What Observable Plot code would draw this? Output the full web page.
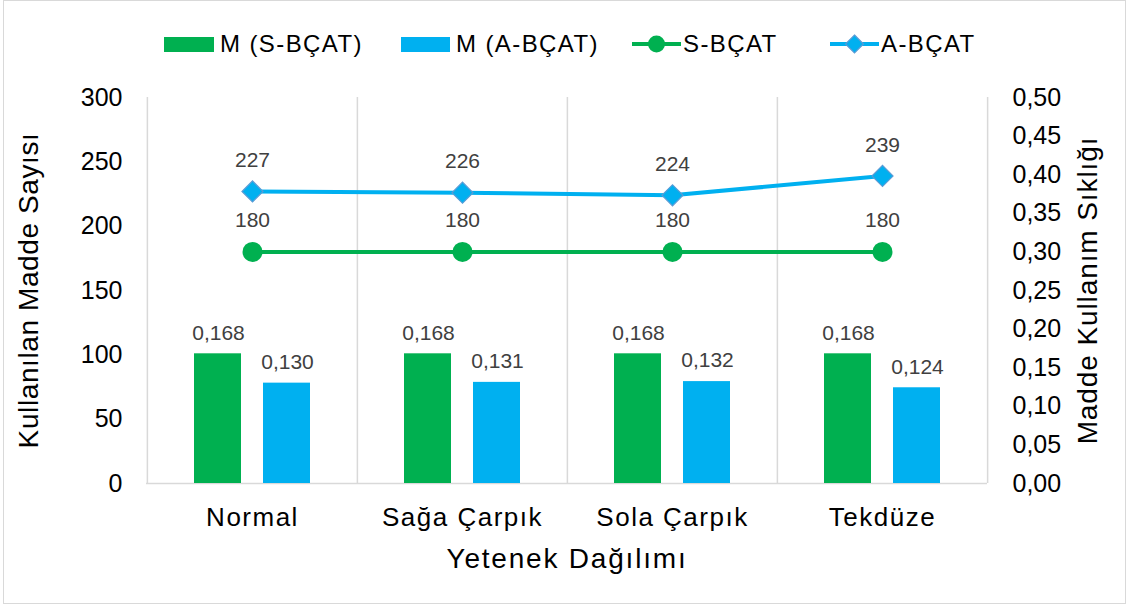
<!DOCTYPE html>
<html>
<head>
<meta charset="utf-8">
<script src="https://cdn.jsdelivr.net/npm/d3@7"></script>
<script src="https://cdn.jsdelivr.net/npm/@observablehq/plot@0.6"></script>
<style>
  html, body { margin: 0; padding: 0; background: #fff; }
  body { font-family: "Liberation Sans", Arial, sans-serif; }
  #wrap { position: relative; width: 1130px; height: 608px; overflow: hidden; }
  #frame { position: absolute; left: 3px; top: 0; width: 1123px; height: 604px; border: 1px solid #d9d9d9; box-sizing: border-box; pointer-events: none; }
  #legend { position: absolute; left: 0; top: 0; width: 1130px; height: 75px; }
  .item { position: absolute; top: 30px; height: 28px; display: flex; align-items: center; font-size: 24px; letter-spacing: 1.4px; color: #000; white-space: nowrap; }
  .item svg { display: block; }
  #chart { position: absolute; left: 0; top: 75px; }
</style>
</head>
<body>
<div id="wrap">
  <div id="legend"></div>
  <div id="chart"></div>
  <div id="frame"></div>
</div>
<script>
// ---- data ----
const categories = ["Normal", "Sağa Çarpık", "Sola Çarpık", "Tekdüze"];
const mS = [0.168, 0.168, 0.168, 0.168];     // M (S-BÇAT) – right axis
const mA = [0.130, 0.131, 0.132, 0.124];     // M (A-BÇAT) – right axis
const countS = [180, 180, 180, 180];         // S-BÇAT – left axis
const countA = [227, 226, 224, 239];         // A-BÇAT – left axis
const leftTicks = [0, 50, 100, 150, 200, 250, 300];
const rightTicks = [0, 0.05, 0.10, 0.15, 0.20, 0.25, 0.30, 0.35, 0.40, 0.45, 0.50];
const seriesNames = ["M (S-BÇAT)", "M (A-BÇAT)", "S-BÇAT", "A-BÇAT"];
const xTitle = "Yetenek Dağılımı";
const yLeftTitle = "Kullanılan Madde Sayısı";
const yRightTitle = "Madde Kullanım Sıklığı";

const leftMax = 300, rightMax = 0.5;
const k = leftMax / rightMax; // right-axis value -> left-axis units

const colS = "#00b050", colA = "#00b0f0", colAEdge = "#5b9bd5";
const labelCol = "#404040", gridCol = "#d9d9d9";

const rows = categories.map((c, i) => ({cat: c, mS: mS[i], mA: mA[i], s: countS[i], a: countA[i]}));

const W = 1130, H = 533, mL = 146, mR = 143, mT = 22, mB = 125;
const bw = (W - mL - mR) / categories.length;
const fmt3 = d => d.toFixed(3).replace(".", ",");
const fmt2 = d => d.toFixed(2).replace(".", ",");

const chart = Plot.plot({
  width: W, height: H,
  marginLeft: mL, marginRight: mR, marginTop: mT, marginBottom: mB,
  style: {fontFamily: "Liberation Sans, Arial, sans-serif", background: "transparent", overflow: "visible"},
  x: {type: "band", domain: categories, padding: 0, label: null},
  y: {domain: [0, leftMax], label: null},
  marks: [
    // category separators
    Plot.ruleX(categories, {x: d => d, y1: 0, y2: leftMax, stroke: gridCol, strokeWidth: 1.5, dx: -bw / 2}),
    Plot.ruleX(categories.slice(-1), {x: d => d, y1: 0, y2: leftMax, stroke: gridCol, strokeWidth: 1.5, dx: bw / 2}),
    Plot.ruleY([0], {stroke: gridCol, strokeWidth: 1.5}),
    // bars (right axis values)
    Plot.barY(rows, {x: "cat", y: d => d.mS * k, fill: colS, insetLeft: 47, insetRight: 116}),
    Plot.barY(rows, {x: "cat", y: d => d.mA * k, fill: colA, insetLeft: 116, insetRight: 47}),
    Plot.text(rows, {x: "cat", y: d => d.mS * k, text: d => fmt3(d.mS), dx: -34, dy: -21, fontSize: 21, fill: labelCol}),
    Plot.text(rows, {x: "cat", y: d => d.mA * k, text: d => fmt3(d.mA), dx: 35, dy: -21, fontSize: 21, fill: labelCol}),
    // lines (left axis)
    Plot.line(rows, {x: "cat", y: "s", stroke: colS, strokeWidth: 4}),
    Plot.dot(rows, {x: "cat", y: "s", r: 10, fill: colS, stroke: "none", symbol: "circle"}),
    Plot.line(rows, {x: "cat", y: "a", stroke: colA, strokeWidth: 4}),
    Plot.dot(rows, {x: "cat", y: "a", r: 8.4, fill: colA, stroke: colAEdge, strokeWidth: 1.2, symbol: "square", rotate: 45}),
    Plot.text(rows, {x: "cat", y: "s", text: d => String(d.s), dy: -32, fontSize: 21, fill: labelCol}),
    Plot.text(rows, {x: "cat", y: "a", text: d => String(d.a), dy: -31, fontSize: 21, fill: labelCol}),
    // axes
    Plot.axisY(leftTicks, {anchor: "left", tickSize: 0, tickPadding: 24, fontSize: 25, label: null, fill: "#000"}),
    Plot.axisY(rightTicks.map(v => v * k), {anchor: "right", tickSize: 0, tickPadding: 25, fontSize: 25, label: null, fill: "#000",
      tickFormat: d => fmt2(d / k)}),
    Plot.axisX({tickSize: 0, tickPadding: 24, fontSize: 26, label: null, fill: "#000"}),
    // axis titles
    Plot.text([yLeftTitle], {frameAnchor: "left", textAnchor: "middle", rotate: -90, dx: -117, fontSize: 28, fill: "#000"}),
    Plot.text([yRightTitle], {frameAnchor: "right", textAnchor: "middle", rotate: -90, dx: 101, fontSize: 28, fill: "#000"}),
    Plot.text([xTitle], {frameAnchor: "bottom", textAnchor: "middle", dy: 84, fontSize: 28, fill: "#000"})
  ]
});
const sel = d3.select(chart);
sel.selectAll("g[aria-label='x-axis tick label'] text").attr("letter-spacing", "1.5px");
const spacing = {[yLeftTitle]: "0.6px", [yRightTitle]: "0.9px", [xTitle]: "1.8px"};
sel.selectAll("text").each(function() {
  const t = this.textContent;
  if (spacing[t]) this.setAttribute("letter-spacing", spacing[t]);
});
document.getElementById("chart").appendChild(chart);

// ---- legend (HTML, above the SVG) ----
const legend = document.getElementById("legend");
const lefts = [164, 401, 632, 830];
const gaps = [6, 6, 2, 2];
const swatches = [
  `<svg width="50" height="20"><rect x="0" y="3" width="50" height="15" fill="${colS}"/></svg>`,
  `<svg width="49" height="20"><rect x="0" y="3" width="49" height="15" fill="${colA}"/></svg>`,
  `<svg width="49" height="22"><line x1="0" x2="49" y1="11" y2="11" stroke="${colS}" stroke-width="4"/><circle cx="24.5" cy="11" r="8.5" fill="${colS}"/></svg>`,
  `<svg width="49" height="22"><line x1="0" x2="49" y1="11" y2="11" stroke="${colA}" stroke-width="4"/><path d="M24.5 2 L33.5 11 L24.5 20 L15.5 11 Z" fill="${colA}" stroke="${colAEdge}" stroke-width="1.2"/></svg>`
];
seriesNames.forEach((name, i) => {
  const div = document.createElement("div");
  div.className = "item";
  div.style.left = lefts[i] + "px";
  div.innerHTML = swatches[i] + `<span style="margin-left:${gaps[i]}px">${name}</span>`;
  legend.appendChild(div);
});
</script>
</body>
</html>
